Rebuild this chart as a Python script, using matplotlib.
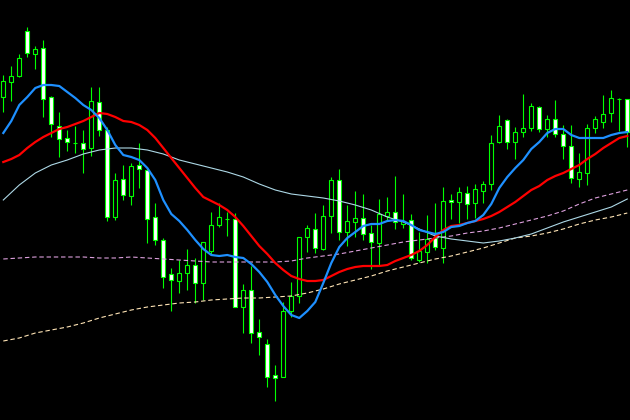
import numpy as np
import matplotlib
matplotlib.use("Agg")
import matplotlib.pyplot as plt

# candle data (price units)
opens = [323, 338, 344, 389, 366, 372, 323, 294, 282, 277, 277, 272, 318, 290, 203, 241, 224, 255, 250, 203,
         180, 146, 139, 147, 155, 137, 169, 195, 201, 201, 113, 130, 88, 76, 45, 43, 109, 124, 183, 191,
         171, 204, 240, 188, 198, 202, 187, 177, 204, 208, 196, 200, 160, 168, 182, 172, 220, 218, 227, 217,
         229, 236, 278, 300, 278, 288, 292, 313, 291, 301, 286, 274, 241, 247, 292, 298, 307, 321, 321]
highs = [345, 354, 366, 393, 374, 380, 324, 308, 290, 294, 290, 333, 333, 293, 247, 255, 257, 277, 253, 217,
         182, 152, 160, 171, 162, 178, 208, 217, 208, 207, 136, 154, 101, 81, 55, 118, 138, 183, 195, 207,
         215, 243, 251, 215, 229, 226, 195, 221, 223, 244, 226, 206, 188, 205, 217, 233, 226, 233, 234, 236,
         239, 285, 305, 301, 293, 326, 317, 314, 305, 320, 295, 295, 267, 296, 304, 325, 330, 322, 321]
lows = [308, 319, 343, 363, 351, 303, 283, 263, 269, 267, 247, 264, 284, 199, 200, 220, 215, 232, 177, 175,
        132, 109, 127, 130, 117, 120, 165, 193, 184, 113, 87, 77, 65, 33, 19, 43, 103, 117, 168, 167,
        170, 187, 180, 174, 183, 180, 151, 155, 199, 191, 192, 160, 158, 157, 170, 157, 201, 197, 201, 202,
        217, 230, 277, 271, 261, 283, 289, 288, 283, 283, 261, 237, 233, 235, 287, 292, 298, 289, 273]
closes = [339, 344, 362, 367, 371, 321, 296, 281, 278, 277, 271, 319, 290, 203, 240, 225, 254, 251, 201, 180,
          143, 140, 147, 155, 137, 178, 195, 203, 201, 113, 130, 87, 83, 43, 42, 109, 124, 183, 192, 172,
          204, 240, 188, 199, 202, 186, 178, 206, 208, 198, 199, 162, 169, 181, 173, 219, 218, 228, 216, 231,
          236, 277, 294, 278, 288, 292, 314, 291, 301, 286, 274, 242, 248, 292, 301, 306, 322, 321, 288]

# fast / medium moving averages, one value per bar
ma_fast = [287, 299, 315, 323, 332, 335, 335, 334, 328, 322, 315, 310, 302, 290, 275, 265, 263, 260, 252, 240,
           220, 206, 199, 190, 180, 171, 165, 164, 165, 163, 162, 156, 148, 138, 125, 114, 105, 102, 109, 118,
           137, 157, 173, 182, 188, 194, 196, 196, 199, 200, 199, 195, 190, 188, 186, 188, 193, 194, 197, 199,
           205, 216, 232, 243, 252, 260, 271, 278, 287, 291, 291, 285, 282, 282, 282, 282, 285, 287, 288]
ma_mid = [258, 261, 265, 272, 278, 283, 287, 291, 293, 296, 299, 303, 307, 306, 303, 299, 298, 295, 290, 282,
          272, 262, 252, 242, 232, 223, 219, 215, 210, 203, 194, 184, 174, 166, 157, 150, 144, 141, 139, 139,
          140, 144, 148, 151, 153, 154, 154, 154, 155, 159, 162, 165, 169, 175, 183, 190, 194, 195, 197, 199,
          201, 204, 208, 213, 218, 224, 230, 234, 240, 244, 247, 251, 255, 261, 266, 272, 277, 282, 284]

# slow moving averages, sampled every second bar
slow_bars = list(range(0, 79, 2))
ma_slow = [220, 235, 247, 255, 260, 266, 270, 272, 272, 270, 266, 260, 256, 252, 248, 243, 236, 230, 226, 224,
           222, 219, 215, 210, 203, 198, 191, 184, 181, 179, 177, 179, 182, 186, 192, 198, 203, 208, 213, 221]
ma_long1 = [161, 162, 163, 163, 163, 163, 162, 162, 163, 162, 161, 160, 159, 158, 158, 158, 158, 158, 159, 162,
            164, 166, 169, 172, 175, 178, 180, 182, 184, 187, 189, 192, 196, 200, 204, 209, 216, 222, 226, 230]
ma_long2 = [79, 82, 87, 90, 93, 97, 102, 106, 110, 113, 115, 117, 118, 120, 121, 122, 122, 123, 124, 127,
            131, 136, 140, 144, 149, 153, 157, 161, 164, 168, 172, 177, 182, 184, 187, 191, 196, 200, 203, 207]

fig = plt.figure(figsize=(6.3, 4.2), dpi=100, facecolor="black")
ax = fig.add_axes([0, 0, 1, 1])
ax.set_facecolor("black")

o = np.array(opens)
h = np.array(highs)
l = np.array(lows)
c = np.array(closes)
x = np.arange(len(o))

# wicks
ax.vlines(x, l, h, color="#00ff00", lw=0.8, zorder=1)

# bodies: bull hollow (black), bear filled white
bull = c >= o
body_low = np.minimum(o, c)
body_h = np.abs(c - o)
ax.bar(x[bull], body_h[bull], bottom=body_low[bull], width=0.5,
       facecolor="black", edgecolor="#00ff00", linewidth=0.8, zorder=2)
ax.bar(x[~bull], body_h[~bull], bottom=body_low[~bull], width=0.5,
       facecolor="white", edgecolor="#00ff00", linewidth=0.8, zorder=2)

# moving averages
ax.plot(slow_bars, ma_long1, color="#dda0dd", lw=0.8, ls=(0, (4, 2.5)), zorder=3)
ax.plot(slow_bars, ma_long2, color="#ffe4b5", lw=0.8, ls=(0, (4, 2.5)), zorder=3)
ax.plot(slow_bars, ma_slow, color="#add8e6", lw=0.8, zorder=3)
ax.plot(x, ma_mid, color="#ff0000", lw=1.6, zorder=4)
ax.plot(x, ma_fast, color="#1e90ff", lw=1.6, zorder=5)

ax.set_xlim(-0.4125, 78.34)
ax.set_ylim(0, 420)
ax.axis("off")

fig.savefig("out.png", dpi=100, facecolor="black")
